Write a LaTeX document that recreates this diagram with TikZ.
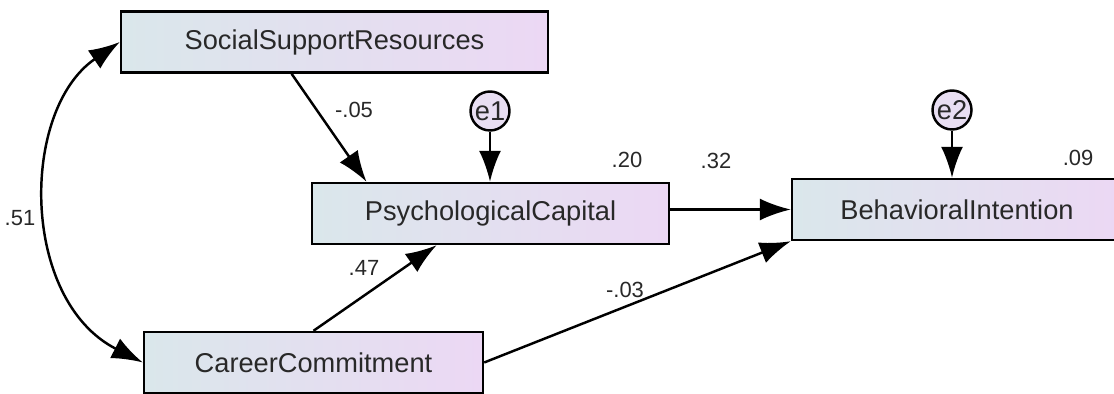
\documentclass[tikz,border=0pt]{standalone}
\usepackage{fontspec}
\setmainfont{Liberation Sans}
\usepackage{tikz}
\usetikzlibrary{arrows.meta, calc}
\definecolor{boxleft}{RGB}{218, 231, 235}
\definecolor{boxright}{RGB}{236, 216, 244}
\definecolor{errfill}{RGB}{232, 222, 242}
\definecolor{textgray}{RGB}{40, 40, 40}

\begin{document}
\begin{tikzpicture}[
  x=0.02cm, y=-0.02cm,
  var/.style={rectangle,draw=black,line width=1.4pt,left color=boxleft,right color=boxright,
              font=\fontsize{15.5}{17}\selectfont,text=textgray,inner sep=0pt},
  err/.style={circle,draw=black,line width=1.4pt,fill=errfill,minimum size=0.78cm,inner sep=0pt,
              font=\fontsize{15.5}{17}\selectfont,text=textgray},
  coef/.style={font=\fontsize{12.5}{14}\selectfont,text=textgray,inner sep=1pt},
  path/.style={-{Latex[length=0.62cm,width=0.44cm]},line width=1.4pt},
  cov/.style={{Latex[length=0.62cm,width=0.44cm]}-{Latex[length=0.62cm,width=0.44cm]},line width=1.4pt},
  >=Latex
]
  \useasboundingbox (0,0) rectangle (1114,394);

  % observed variables
  \node[var,minimum width=8.54cm,minimum height=1.22cm] (ssr) at (334.5,42)   {SocialSupportResources};
  \node[var,minimum width=7.14cm,minimum height=1.22cm] (pc)  at (490.5,213.5) {PsychologicalCapital};
  \node[var,minimum width=6.60cm,minimum height=1.22cm] (bi)  at (957,209.5)   {BehavioralIntention};
  \node[var,minimum width=6.78cm,minimum height=1.22cm] (cc)  at (313.5,362.5) {CareerCommitment};

  % errors
  \node[err] (e1) at (490,111) {e1};
  \node[err] (e2) at (952,110) {e2};

  % paths
  \draw[path] ($(ssr.south west)!0.40!(ssr.south east)$) -- ($(pc.north west)!0.155!(pc.north east)$);
  \draw[path] (e1) -- (e1 |- pc.north);
  \draw[path] (e2) -- (e2 |- bi.north);
  \draw[path] (bi.west -| pc.east) -- (bi.west);
  \draw[path] (cc.north) -- ($(pc.south west)!0.35!(pc.south east)$);
  \draw[path] (cc.east) -- (bi.south west);
  \draw[cov] (ssr.west) .. controls (20,110) and (20,300) .. (cc.west);

  % coefficients
  \node[coef] (c51) at (20,218)   {.51};
  \node[coef] (c05) at (354,110)  {-.05};
  \node[coef] (r20) at (627,160)  {.20};
  \node[coef] (c32) at (716,161)  {.32};
  \node[coef] (r09) at (1078,158) {.09};
  \node[coef] (c47) at (364,268)  {.47};
  \node[coef] (c03) at (625,290)  {-.03};
\end{tikzpicture}
\end{document}
